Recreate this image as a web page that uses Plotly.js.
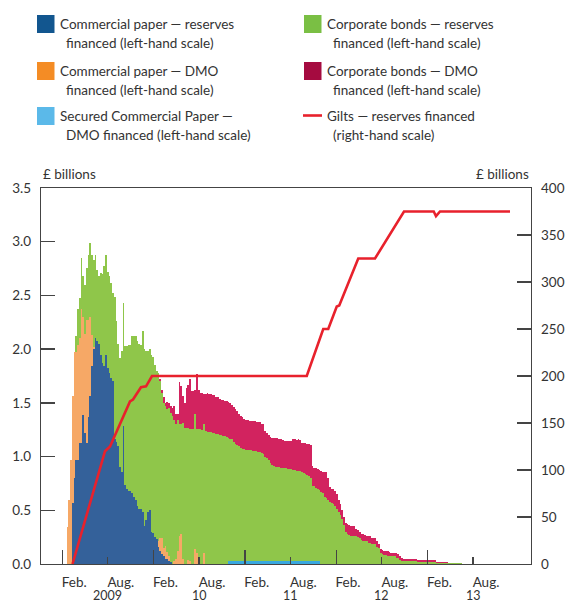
<!DOCTYPE html>
<html>
<head>
<meta charset="utf-8">
<script src="https://cdn.plot.ly/plotly-3.0.1.min.js"></script>
<style>
  html, body { margin: 0; padding: 0; background: #fff; }
  #chart { width: 567px; height: 606px; }
</style>
</head>
<body>
<div id="chart"></div>
<script>
// ---------------- DATA ----------------
// Weekly observations, first week ending 2009-01-21
const WEEK_START = '2009-01-21';

// Commercial paper — reserves financed (£ billions)
const cpReserves = [
  0,0,0,0.57,0.80,0.97,0.97,1.13,1.13,1.39,
  1.22,1.13,1.37,1.56,1.84,2.00,2.10,2.08,2.05,1.95,
  1.87,1.84,1.95,1.82,1.78,1.73,1.70,1.16,1.14,1.10,
  0.90,0.86,1.28,0.74,0.70,0.68,0.68,0.66,0.62,0.60,
  0.54,0.51,0.51,0.48,0.35,0.41,0.48,0.50,0.30,0.29,
  0.25,0.23,0.16,0.12,0.09,0.07,0.05,0.05,0.03,0.02
];

// Commercial paper — DMO financed (£ billions)
const cpDMO = [
  0.34,0.60,0.97,0.99,1.17,1.00,1.07,0.97,1.24,0.91,
  0.92,1.14,0.90,0.74,0.29,0.02,0,0,0,0,
  0,0,0,0,0,0,0,0,0,0,
  0,0,0,0,0,0,0,0,0,0,
  0,0,0,0,0,0,0,0,0,0,
  0,0,0.05,0.12,0.15,0.08,0.12,0.06,0.04,0,
  0,0.03,0.05,0.12,0.26,0.28,0.05,0,0,0.04,
  0.03,0,0,0.14,0.10,0,0,0,0.10
];

// Secured Commercial Paper — DMO financed (£ billions)
const secCP = [
  0,0,0,0,0,0,0,0,0,0,
  0,0,0,0,0,0,0,0,0,0,
  0,0,0,0,0,0,0,0,0,0,
  0,0,0,0,0,0,0,0,0,0,
  0,0,0,0,0,0,0,0,0,0,
  0,0,0,0,0,0,0,0,0,0,
  0,0,0,0,0,0,0,0,0,0,
  0,0,0,0,0,0,0,0,0,0,
  0,0,0,0,0,0,0,0,0,0,
  0,0,0.03,0.03,0.03,0.03,0.03,0.03,0.03,0.03,
  0.03,0.03,0.03,0.03,0.03,0.03,0.03,0.03,0.03,0.03,
  0.03,0.03,0.03,0.03,0.03,0.03,0.03,0.03,0.03,0.03,
  0.03,0.025,0.025,0.025,0.025,0.025,0.025,0.025,0.025,0.025,
  0.025,0.025,0.025,0.025,0.025,0.025,0.025,0.025,0.025,0.025,
  0.025,0.025,0.025,0.025,0.025
];

// Corporate bonds — reserves financed (£ billions)
const cbReserves = [
  0,0,0,0,0,0.15,0.33,0.38,0.48,0.38,
  0.46,0.49,0.61,0.69,0.75,0.81,0.78,0.66,0.63,0.76,
  0.83,0.93,0.93,0.90,0.90,0.89,0.82,1.33,1.12,0.95,
  1.02,1.12,1.15,1.29,1.33,1.36,1.36,1.46,1.50,1.52,
  1.54,1.54,1.53,1.69,1.65,1.57,1.50,1.50,1.65,1.64,
  1.60,1.57,1.57,1.46,1.35,1.35,1.30,1.33,1.38,1.39,
  1.38,1.31,1.25,1.22,1.04,1.02,1.26,1.27,1.27,1.23,
  1.23,1.26,1.26,1.26,1.16,1.26,1.26,1.25,1.20,1.24,
  1.23,1.23,1.23,1.22,1.22,1.21,1.21,1.20,1.20,1.19,
  1.19,1.18,1.14,1.13,1.13,1.11,1.09,1.08,1.07,1.05,
  1.04,1.04,1.03,1.03,1.03,1.03,1.02,1.02,1.02,1.01,
  1.01,1.00,0.99,0.97,0.96,0.94,0.91,0.89,0.88,0.87,
  0.87,0.88,0.87,0.87,0.87,0.87,0.86,0.86,0.86,0.85,
  0.85,0.84,0.84,0.84,0.83,0.82,0.81,0.80,0.79,0.78,
  0.70,0.70,0.68,0.67,0.66,0.67,0.66,0.62,0.61,0.60,
  0.58,0.57,0.56,0.54,0.51,0.48,0.46,0.42,0.36,0.30,
  0.28,0.27,0.26,0.26,0.26,0.26,0.25,0.24,0.22,0.21,
  0.21,0.21,0.20,0.20,0.19,0.19,0.19,0.16,0.15,0.10,
  0.09,0.08,0.08,0.07,0.07,0.07,0.07,0.07,0.06,0.06,
  0.04,0.03,0.03,0.03,0.03,0.03,0.03,0.03,0.03,0.03,
  0.02,0.02,0.02,0.02,0.02,0.02,0.02,0.02,0.02,0.02,
  0.02,0.01,0.01,0.01,0.01,0.01,0.01,0.01,0.01,0.01,
  0.01,0.01,0.01,0.01,0.01,0.01
];

// Corporate bonds — DMO financed (£ billions)
const cbDMO = [
  0,0,0,0,0,0,0,0,0,0,
  0,0,0,0,0,0,0,0,0,0,
  0,0,0,0,0,0,0,0,0,0,
  0,0,0,0,0,0,0,0,0,0,
  0,0,0,0,0,0,0,0,0,0,
  0,0,0,0.02,0.03,0.05,0.03,0.07,0.05,0.06,
  0.07,0.13,0.10,0.06,0.39,0.36,0.25,0.23,0.37,0.40,
  0.46,0.35,0.35,0.22,0.51,0.36,0.33,0.34,0.28,0.34,
  0.36,0.35,0.35,0.35,0.35,0.34,0.34,0.34,0.33,0.34,
  0.33,0.34,0.34,0.34,0.32,0.32,0.32,0.31,0.30,0.30,
  0.30,0.28,0.28,0.28,0.27,0.27,0.28,0.28,0.27,0.28,
  0.28,0.27,0.28,0.24,0.23,0.23,0.24,0.25,0.26,0.27,
  0.27,0.26,0.27,0.26,0.25,0.25,0.26,0.26,0.26,0.29,
  0.29,0.29,0.30,0.29,0.27,0.28,0.29,0.29,0.30,0.30,
  0.19,0.17,0.19,0.19,0.19,0.20,0.20,0.24,0.25,0.20,
  0.14,0.13,0.14,0.14,0.14,0.12,0.10,0.08,0.08,0.08,
  0.09,0.09,0.09,0.09,0.09,0.07,0.07,0.06,0.06,0.07,
  0.06,0.05,0.06,0.06,0.05,0.05,0.05,0.05,0.04,0.04,
  0.04,0.04,0.04,0.05,0.04,0.03,0.03,0.03,0.04,0.03,
  0.03,0.03,0.02,0.02,0.02,0.02,0.02,0.02,0.02,0.02,
  0.015,0.015,0.015,0.015,0.015,0.015,0.015,0.015,0.015,0.015,
  0.015,0.005,0.005,0.005,0.005,0.005,0.005,0.005
];

// Gilts — reserves financed (£ billions, right-hand scale)
const giltDates = ['2009-02-10','2009-06-20','2009-07-10','2009-09-28','2009-10-10','2009-11-11','2009-12-01','2009-12-25',
  '2011-09-05','2011-11-10','2011-11-30','2012-01-03','2012-01-13','2012-03-29','2012-06-04','2012-09-28',
  '2013-01-25','2013-02-03','2013-02-19','2013-11-26'];
const giltValues = [0,120,125,173,175,188,189,200,200,250,250,274,275,325,325,375,375,370,375,375];

// Axis labels
const leftTicks = [0,0.5,1,1.5,2,2.5,3,3.5];
const rightTicks = [0,50,100,150,200,250,300,350,400];
const yearTickDates = ['2009-01-01','2010-01-01','2011-01-01','2012-01-01','2013-01-01'];
const midYearTickDates = ['2009-07-01','2010-07-01','2011-07-01','2012-07-01','2013-07-01'];
const monthLabelDates = ['2009-02-17','2009-08-22','2010-02-17','2010-08-22','2011-02-17','2011-08-22','2012-02-17','2012-08-22','2013-02-17','2013-08-22'];
const monthLabels = ['Feb.','Aug.','Feb.','Aug.','Feb.','Aug.','Feb.','Aug.','Feb.','Aug.'];
const yearLabelDates = ['2009-07-01','2010-07-01','2011-07-01','2012-07-01','2013-07-01'];
const yearLabels = ['2009','10','11','12','13'];

// ---------------- BUILD ----------------
function weeks(n) {
  const t0 = Date.parse(WEEK_START + 'T00:00:00Z');
  const out = [];
  for (let i = 0; i < n; i++) out.push(new Date(t0 + i * 7 * 86400000).toISOString().slice(0, 10));
  return out;
}

const FONT = 'Lato, "Open Sans", sans-serif';
const TXT = '#333333';
const AX = '#444444';

function barTrace(name, vals, color) {
  return {
    type: 'bar', name: name, x: weeks(vals.length), y: vals,
    marker: { color: color, line: { width: 0 } },
    xaxis: 'x', yaxis: 'y', showlegend: false, hoverinfo: 'x+y+name'
  };
}

const data = [
  barTrace('Commercial paper — reserves financed', cpReserves, '#34619a'),
  barTrace('Commercial paper — DMO financed', cpDMO, '#f6a866'),
  barTrace('Secured Commercial Paper — DMO financed', secCP, '#38a8df'),
  barTrace('Corporate bonds — reserves financed', cbReserves, '#8fc64a'),
  barTrace('Corporate bonds — DMO financed', cbDMO, '#d2235f'),
  {
    type: 'scatter', mode: 'lines', name: 'Gilts — reserves financed',
    x: giltDates, y: giltValues, xaxis: 'x2', yaxis: 'y2',
    line: { color: '#e8212c', width: 2.6 }, showlegend: false
  }
];

// pixel -> paper helpers for the hand-placed legend
const PL = 41, PW = 490, PB = 564, PH = 376;
const px = v => (v - PL) / PW;
const py = v => (PB - v) / PH;

const legendItems = [
  { x: 37,  y: 15,  color: '#12568f', l1: 'Commercial paper — reserves', l2: 'financed (left-hand scale)' },
  { x: 37,  y: 62,  color: '#f48c25', l1: 'Commercial paper — DMO', l2: 'financed (left-hand scale)' },
  { x: 37,  y: 107, color: '#5bb9e9', l1: 'Secured Commercial Paper —', l2: 'DMO financed (left-hand scale)' },
  { x: 304, y: 15,  color: '#7abf44', l1: 'Corporate bonds — reserves', l2: 'financed (left-hand scale)' },
  { x: 304, y: 62,  color: '#a50b40', l1: 'Corporate bonds — DMO', l2: 'financed (left-hand scale)' },
  { x: 304, y: 107, color: '#e8212c', l1: 'Gilts — reserves financed', l2: '(right-hand scale)', line: true }
];

const shapes = [];
const annotations = [];
legendItems.forEach(it => {
  if (it.line) {
    shapes.push({ type: 'line', xref: 'paper', yref: 'paper', x0: px(it.x - 1), x1: px(it.x + 18), y0: py(it.y + 8.5), y1: py(it.y + 8.5),
      line: { color: it.color, width: 2.6 } });
  } else {
    shapes.push({ type: 'rect', xref: 'paper', yref: 'paper', x0: px(it.x), x1: px(it.x + 17.5), y0: py(it.y + 18), y1: py(it.y),
      fillcolor: it.color, line: { width: 0 } });
  }
  annotations.push({ xref: 'paper', yref: 'paper', x: px(it.x + 20.5), y: py(it.y + 9), text: it.l1, showarrow: false,
    xanchor: 'left', yanchor: 'middle', font: { family: FONT, size: 13.5, color: TXT } });
  annotations.push({ xref: 'paper', yref: 'paper', x: px(it.x + 27), y: py(it.y + 28), text: it.l2, showarrow: false,
    xanchor: 'left', yanchor: 'middle', font: { family: FONT, size: 13.5, color: TXT } });
});

annotations.push({ xref: 'paper', yref: 'paper', x: 0, y: py(174), text: '£ billions', showarrow: false,
  xanchor: 'left', yanchor: 'middle', font: { family: FONT, size: 13.5, color: TXT } });
annotations.push({ xref: 'paper', yref: 'paper', x: 1, y: py(174), text: '£ billions', showarrow: false,
  xanchor: 'right', yanchor: 'middle', font: { family: FONT, size: 13.5, color: TXT } });

yearLabelDates.forEach((d, k) => {
  annotations.push({ xref: 'x', yref: 'paper', x: d, y: py(605), text: yearLabels[k], showarrow: false,
    xanchor: 'center', yanchor: 'bottom', font: { family: FONT, size: 12.5, color: TXT } });
});

const XRANGE = ['2008-10-07', '2014-02-18'];

const layout = {
  width: 567, height: 606,
  margin: { l: 41, r: 36, t: 188, b: 42, pad: 0 },
  paper_bgcolor: '#ffffff', plot_bgcolor: '#ffffff',
  font: { family: FONT, size: 13.5, color: TXT },
  barmode: 'stack', bargap: 0,
  showlegend: false,
  xaxis: {
    type: 'date', range: XRANGE, fixedrange: true,
    tickmode: 'array', tickvals: yearTickDates, ticks: 'inside', ticklen: 14, tickwidth: 1.3, tickcolor: AX,
    minor: { tickmode: 'array', tickvals: midYearTickDates, ticks: 'inside', ticklen: 7, tickwidth: 1.3, tickcolor: AX, showgrid: false },
    showticklabels: false, showgrid: false, zeroline: false,
    showline: true, linecolor: AX, linewidth: 1.3, mirror: true
  },
  xaxis2: {
    type: 'date', range: XRANGE, overlaying: 'x', anchor: 'y2', side: 'bottom', fixedrange: true,
    tickmode: 'array', tickvals: monthLabelDates, ticktext: monthLabels, ticks: '',
    ticklabelstandoff: 8, tickfont: { family: FONT, size: 13.5, color: TXT },
    showgrid: false, zeroline: false, showline: false
  },
  yaxis: {
    range: [0, 3.5], fixedrange: true, tickmode: 'array', tickvals: leftTicks, tickformat: '.1f',
    ticks: 'inside', ticklen: 14, tickwidth: 1.3, tickcolor: AX, ticklabelstandoff: 6,
    tickfont: { family: FONT, size: 13.5, color: TXT },
    showgrid: false, zeroline: false, showline: true, linecolor: AX, linewidth: 1.3
  },
  yaxis2: {
    range: [0, 400], fixedrange: true, overlaying: 'y', side: 'right', anchor: 'x2',
    tickmode: 'array', tickvals: rightTicks,
    ticks: 'inside', ticklen: 14, tickwidth: 1.3, tickcolor: AX, ticklabelstandoff: 6,
    tickfont: { family: FONT, size: 13.5, color: TXT },
    showgrid: false, zeroline: false, showline: true, linecolor: AX, linewidth: 1.3
  },
  shapes: shapes,
  annotations: annotations
};

Plotly.newPlot('chart', data, layout, { staticPlot: true, displayModeBar: false });
</script>
</body>
</html>
